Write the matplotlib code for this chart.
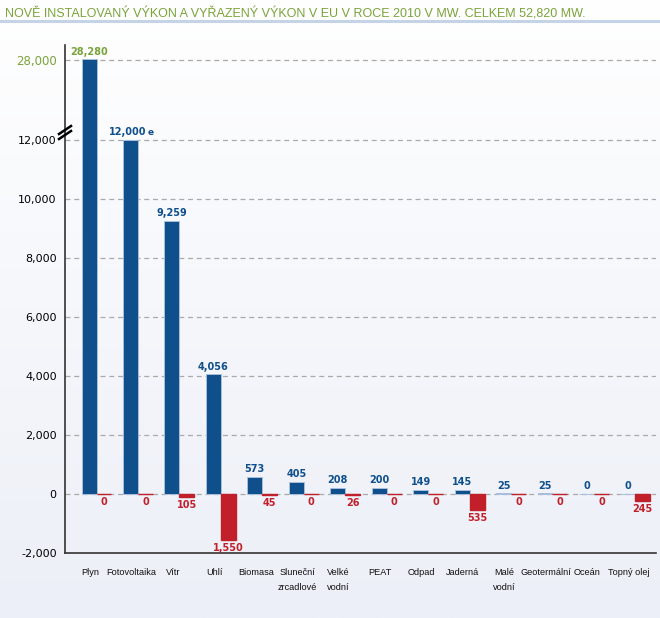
import numpy as np
import matplotlib
matplotlib.use("Agg")
import matplotlib.pyplot as plt

# data
categories = ["Plyn", "Fotovoltaika", "Vítr", "Uhlí", "Biomasa", "Sluneční\nzrcadlové",
              "Velké\nvodní", "PEAT", "Odpad", "Jaderná", "Malé\nvodní", "Geotermální",
              "Oceán", "Topný olej"]
installed = [28280, 12000, 9259, 4056, 573, 405, 208, 200, 149, 145, 25, 25, 0, 0]
decommissioned = [0, 0, 105, 1550, 45, 0, 26, 0, 0, 535, 0, 0, 0, 245]
yticks = [-2000, 0, 2000, 4000, 6000, 8000, 10000, 12000, 28000]

title = "NOVĚ INSTALOVANÝ VÝKON A VYŘAZENÝ VÝKON V EU V ROCE 2010 V MW. CELKEM 52,820 MW."

BLUE = "#0f4f8c"
RED = "#c1202b"
GREEN = "#7aa33a"

# broken axis: above 12,000 the scale is compressed
K = 0.169


def fwd(v):
    v = np.asarray(v, dtype=float)
    return np.where(v <= 12000, v, 12000 + (v - 12000) * K)


def inv(v):
    v = np.asarray(v, dtype=float)
    return np.where(v <= 12000, v, 12000 + (v - 12000) / K)


fig = plt.figure(figsize=(6.6, 6.18), dpi=100)

# background gradient
bg = fig.add_axes([0, 0, 1, 1], zorder=-10)
grad = np.linspace(0, 1, 256).reshape(-1, 1)
cmap = matplotlib.colors.LinearSegmentedColormap.from_list("bg", ["#ffffff", "#eceff7"])
bg.imshow(grad, aspect="auto", cmap=cmap, extent=[0, 1, 0, 1], origin="upper")
bg.axis("off")

fig.text(0.008, 0.978, title, color=GREEN, fontsize=9.0, ha="left", va="center",
         family=["Liberation Sans", "DejaVu Sans"])
fig.add_artist(plt.Line2D([0, 1], [0.966, 0.966], color="#c5d3e6", lw=2.2,
                          transform=fig.transFigure))

ax = fig.add_axes([0.0985, 0.105, 0.895, 0.822])
ax.set_facecolor("none")
ax.set_yscale("function", functions=(fwd, inv))

x = np.arange(len(categories))
w = 0.36
ax.bar(x, installed, width=w, color=BLUE, edgecolor="#a9bfdb", linewidth=0.7, zorder=3)
ax.bar(x + w, -np.array(decommissioned), width=w, color=RED, edgecolor=RED,
       linewidth=1.0, zorder=3)

for xi, v in zip(x, installed):
    if v == 28280:
        ax.annotate(f"{v:,}", (xi, v), xytext=(0, 1), textcoords="offset points",
                    ha="center", va="bottom", fontsize=7, fontweight="bold", color=GREEN)
    elif v == 12000:
        ax.annotate(f"{v:,}", (xi, v), xytext=(-2, 2), textcoords="offset points",
                    ha="center", va="bottom", fontsize=7, fontweight="bold", color=BLUE)
        ax.annotate("e", (xi, v), xytext=(12, 2), textcoords="offset points",
                    ha="left", va="bottom", fontsize=6.5, fontweight="bold", color=BLUE)
    else:
        ax.annotate(f"{v:,}", (xi, v), xytext=(0, 2), textcoords="offset points",
                    ha="center", va="bottom", fontsize=7, fontweight="bold", color=BLUE)

for xi, v in zip(x + w, decommissioned):
    ax.annotate(f"{v:,}", (xi, -v), xytext=(0, -2), textcoords="offset points",
                ha="center", va="top", fontsize=7, fontweight="bold", color=RED)

ax.set_ylim(-2000, 31000)
ax.set_xlim(-0.58, 13.67)
ax.set_yticks(yticks)
ax.set_yticklabels([f"{t:,}" for t in yticks], fontsize=8)
ax.get_yticklabels()[-1].set_color(GREEN)
ax.get_yticklabels()[-1].set_fontsize(8.5)
ax.set_xticks(x + 0.02)
ax.set_xticklabels(categories, fontsize=6.6, va="top", linespacing=1.8,
                   family=["Liberation Sans", "DejaVu Sans"], color="#111111")
ax.tick_params(axis="both", length=0)
ax.tick_params(axis="x", pad=11)
ax.tick_params(axis="y", pad=6)

for t in yticks[1:]:
    ax.axhline(t, color="#aaaaaa", lw=0.9, ls=(0, (4, 3)), zorder=1)

for s in ["top", "right"]:
    ax.spines[s].set_visible(False)
for s in ["left", "bottom"]:
    ax.spines[s].set_color("#333333")
    ax.spines[s].set_linewidth(1.2)

# break marks on the y axis (figure pixel positions)
for y0 in (134, 139):
    fig.add_artist(plt.Line2D([59 / 660, 71 / 660], [1 - y0 / 618, 1 - (y0 - 8) / 618],
                              color="black", lw=1.8, transform=fig.transFigure, zorder=10))

fig.savefig("out.png", dpi=100)
